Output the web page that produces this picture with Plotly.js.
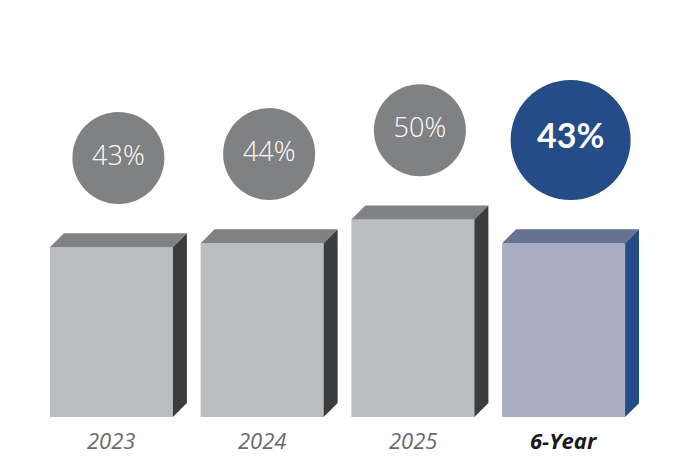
<!DOCTYPE html>
<html>
<head>
<meta charset="utf-8">
<script src="https://cdn.plot.ly/plotly-3.0.1.min.js"></script>
<style>
  html, body { margin: 0; padding: 0; background: #ffffff; }
  #chart { width: 687px; height: 463px; }
</style>
</head>
<body>
<div id="chart"></div>
<script>
// values
var categories = ["2023", "2024", "2025", "6-Year"];
var barValues = [43, 44, 50, 44];           // bar heights as drawn
var pctLabels = ["43%", "44%", "50%", "43%"];  // text in the circles
var highlight = [false, false, false, true];

// colours
var grayFront = "#bcbdbf", grayTop = "#808184", graySide = "#3b3c3e", grayCircle = "#808183";
var blueFront = "#a8adc2", blueTop = "#66728f", blueSide = "#244c87", blueCircle = "#244c87";

var barWidth = 0.816;
var hw = barWidth / 2;
var dx = 0.093;   // depth of the 3d effect along x (axis units)
var dy = 3.55;    // depth along y (axis units)
var gap = 7.4;    // space between top of bar and circle
var pxPerUnit = 3.95;

var xs = categories.map(function(c, i){ return i; });

var traces = [];

// front faces
traces.push({
    type: "bar",
    x: xs,
    y: barValues,
    width: barWidth,
    marker: {
        color: highlight.map(function(h){ return h ? blueFront : grayFront; }),
        line: { width: 0 }
    },
    hoverinfo: "skip"
});

for (var i = 0; i < xs.length; i++) {
    var x = xs[i], v = barValues[i], hl = highlight[i];

    // top face
    traces.push({
        type: "scatter",
        mode: "lines",
        x: [x - hw, x - hw + dx, x + hw + dx, x + hw, x - hw],
        y: [v, v + dy, v + dy, v, v],
        fill: "toself",
        fillcolor: hl ? blueTop : grayTop,
        line: { width: 0 },
        hoverinfo: "skip"
    });

    // right side face
    traces.push({
        type: "scatter",
        mode: "lines",
        x: [x + hw, x + hw, x + hw + dx, x + hw + dx, x + hw],
        y: [0, v, v + dy, dy, 0],
        fill: "toself",
        fillcolor: hl ? blueSide : graySide,
        line: { width: 0 },
        hoverinfo: "skip"
    });

    // circle with label
    var radius = hl ? 60 : 46;
    traces.push({
        type: "scatter",
        mode: "markers+text",
        x: [x + dx / 2],
        y: [v + dy + gap + radius / pxPerUnit],
        marker: { size: radius * 2, color: hl ? blueCircle : grayCircle, line: { width: 0 } },
        text: [pctLabels[i]],
        textposition: "middle center",
        textfont: {
            family: hl ? "Lato, 'Open Sans', sans-serif" : "'Open Sans', Lato, sans-serif",
            size: hl ? 34 : 27,
            color: "#ffffff",
            weight: hl ? 700 : 300
        },
        hoverinfo: "skip"
    });
}

var annotations = categories.map(function(c, i){
    return {
        x: xs[i],
        y: 0,
        xref: "x",
        yref: "y",
        yanchor: "middle",
        yshift: -23,
        showarrow: false,
        text: c,
        font: {
            family: "'Open Sans', Lato, sans-serif",
            size: 22,
            color: highlight[i] ? "#1a1a1a" : "#68696b",
            style: "italic",
            weight: highlight[i] ? 700 : 400
        }
    };
});

var layout = {
    width: 687,
    height: 463,
    margin: { l: 36, r: 48, t: 22, b: 46, pad: 0 },
    paper_bgcolor: "#ffffff",
    plot_bgcolor: "#ffffff",
    showlegend: false,
    hovermode: false,
    xaxis: {
        range: [-0.5, 3.5],
        showgrid: false,
        zeroline: false,
        showticklabels: false,
        showline: false,
        ticks: "",
        fixedrange: true
    },
    yaxis: {
        range: [0, 100],
        showgrid: false,
        zeroline: false,
        showticklabels: false,
        showline: false,
        ticks: "",
        fixedrange: true
    },
    annotations: annotations
};

Plotly.newPlot("chart", traces, layout, { displayModeBar: false, staticPlot: true });
</script>
</body>
</html>
